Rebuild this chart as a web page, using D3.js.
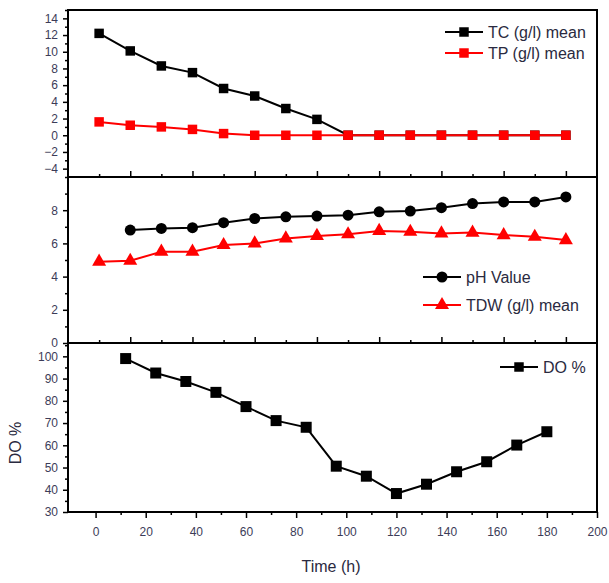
<!DOCTYPE html>
<html>
<head>
<meta charset="utf-8">
<script src="https://cdn.jsdelivr.net/npm/d3@7"></script>
<style>
body { margin: 0; background: #fff; }
svg text { font-family: "Liberation Sans", Arial, sans-serif; }
</style>
</head>
<body>
<div id="chart"></div>
<script>
// data
var timeTop = [0, 12, 24, 36, 48, 60, 72, 84, 96, 108, 120, 132, 144, 156, 168, 180];
var tcMean = [12.2, 10.1, 8.3, 7.5, 5.6, 4.7, 3.2, 1.9, 0, 0, 0, 0, 0, 0, 0, 0];
var tpMean = [1.6, 1.2, 1.0, 0.7, 0.2, 0, 0, 0, 0, 0, 0, 0, 0, 0, 0, 0];
var tdwMean = [4.9, 4.95, 5.5, 5.5, 5.9, 6.0, 6.3, 6.45, 6.55, 6.75, 6.7, 6.6, 6.65, 6.5, 6.4, 6.2];
var timePh = [12, 24, 36, 48, 60, 72, 84, 96, 108, 120, 132, 144, 156, 168, 180];
var phValue = [6.8, 6.9, 6.95, 7.25, 7.5, 7.6, 7.65, 7.7, 7.9, 7.95, 8.15, 8.4, 8.5, 8.5, 8.8];
var timeDo = [12, 24, 36, 48, 60, 72, 84, 96, 108, 120, 132, 144, 156, 168, 180];
var doPercent = [99, 92.5, 88.7, 83.8, 77.4, 71.1, 68.1, 50.6, 46.1, 38.3, 42.5, 48.1, 52.6, 60.1, 66.1];

// ticks
var topMajor = [12, 36, 60, 84, 108, 132, 156, 180];
var topMinor = [0, 24, 48, 72, 96, 120, 144, 168];
var timeTicks = [0, 20, 40, 60, 80, 100, 120, 140, 160, 180, 200];
var timeMinor = [10, 30, 50, 70, 90, 110, 130, 150, 170, 190];
var p1Ticks = [-4, -2, 0, 2, 4, 6, 8, 10, 12, 14];
var p1Minor = [-5, -3, -1, 1, 3, 5, 7, 9, 11, 13, 15];
var p2Ticks = [0, 2, 4, 6, 8];
var p2Minor = [1, 3, 5, 7, 9];
var p3Ticks = [30, 40, 50, 60, 70, 80, 90, 100];
var p3Minor = [35, 45, 55, 65, 75, 85, 95, 105];

var width = 609,
    height = 583,
    left = 68,
    right = 597,
    labelColor = '#3c3c58',
    textColor = '#2a2a40';

var svg = d3.select('#chart')
    .append('svg')
    .attr('width', width)
    .attr('height', height);

var xTop = d3.scaleLinear().domain([-12, 192]).range([left, right]);
var xBot = d3.scaleLinear().domain([-11, 200]).range([left, right]);

var y1 = d3.scaleLinear().domain([-5, 15]).range([177, 10]);
var y2 = d3.scaleLinear().domain([0, 10]).range([343, 177]);
var y3 = d3.scaleLinear().domain([30, 106]).range([512, 343]);

var styleAxis = function (g) {
    g.select('.domain').remove();
    g.selectAll('.tick line').attr('stroke', '#000').attr('stroke-width', 1.5);
    g.selectAll('.tick text')
        .attr('fill', labelColor)
        .style('font-size', '12px');
};

var yAxis = function (scale, major, minor) {
    svg.append('g')
        .attr('transform', 'translate(' + left + ',0)')
        .call(d3.axisLeft(scale).tickValues(major).tickSize(5).tickPadding(5))
        .call(styleAxis);
    svg.append('g')
        .attr('transform', 'translate(' + left + ',0)')
        .call(d3.axisLeft(scale).tickValues(minor).tickSize(3).tickFormat(''))
        .call(styleAxis);
};

var topTicks = function (yPos) {
    svg.append('g')
        .attr('transform', 'translate(0,' + yPos + ')')
        .call(d3.axisBottom(xTop).tickValues(topMajor).tickSize(-6).tickFormat(''))
        .call(styleAxis);
    svg.append('g')
        .attr('transform', 'translate(0,' + yPos + ')')
        .call(d3.axisBottom(xTop).tickValues(topMinor).tickSize(-3).tickFormat(''))
        .call(styleAxis);
};

yAxis(y1, p1Ticks, p1Minor);
yAxis(y2, p2Ticks, p2Minor);
yAxis(y3, p3Ticks, p3Minor);
topTicks(177);
topTicks(343);

svg.append('g')
    .attr('transform', 'translate(0,512)')
    .call(d3.axisBottom(xBot).tickValues(timeTicks).tickSize(6).tickPadding(9))
    .call(styleAxis);
svg.append('g')
    .attr('transform', 'translate(0,512)')
    .call(d3.axisBottom(xBot).tickValues(timeMinor).tickSize(3).tickFormat(''))
    .call(styleAxis);

// series
var drawSeries = function (xs, ys, xScale, yScale, color, symbol, size) {
    var pts = xs.map(function (x, i) { return [xScale(x), yScale(ys[i])]; });
    svg.append('path')
        .attr('d', d3.line()(pts))
        .attr('fill', 'none')
        .attr('stroke', color)
        .attr('stroke-width', 2);
    svg.selectAll(null)
        .data(pts)
        .enter()
        .append('path')
        .attr('transform', function (d) { return 'translate(' + d[0] + ',' + d[1] + ')'; })
        .attr('d', d3.symbol().type(symbol).size(size))
        .attr('fill', color);
};

drawSeries(timeTop, tcMean, xTop, y1, '#000', d3.symbolSquare, 90);
drawSeries(timeTop, tpMean, xTop, y1, '#ff0000', d3.symbolSquare, 90);
drawSeries(timePh, phValue, xTop, y2, '#000', d3.symbolCircle, 95);
drawSeries(timeTop, tdwMean, xTop, y2, '#ff0000', d3.symbolTriangle, 85);
drawSeries(timeDo, doPercent, xBot, y3, '#000', d3.symbolSquare, 121);

// frames
[[10, 177], [177, 343], [343, 512]].forEach(function (p) {
    svg.append('rect')
        .attr('x', left)
        .attr('y', p[0])
        .attr('width', right - left)
        .attr('height', p[1] - p[0])
        .attr('fill', 'none')
        .attr('stroke', '#000')
        .attr('stroke-width', 2);
});

// legends
var legendItem = function (x0, x1, yPos, color, symbol, size, label) {
    svg.append('line')
        .attr('x1', x0).attr('x2', x1)
        .attr('y1', yPos).attr('y2', yPos)
        .attr('stroke', color)
        .attr('stroke-width', 2);
    svg.append('path')
        .attr('transform', 'translate(' + ((x0 + x1) / 2) + ',' + yPos + ')')
        .attr('d', d3.symbol().type(symbol).size(size))
        .attr('fill', color);
    svg.append('text')
        .attr('x', x1 + 5)
        .attr('y', yPos + 6)
        .attr('fill', textColor)
        .style('font-size', '16px')
        .text(label);
};

legendItem(445, 483, 32, '#000', d3.symbolSquare, 90, 'TC (g/l) mean');
legendItem(445, 483, 53, '#ff0000', d3.symbolSquare, 90, 'TP (g/l) mean');
legendItem(423, 461, 277, '#000', d3.symbolCircle, 95, 'pH Value');
legendItem(423, 461, 305, '#ff0000', d3.symbolTriangle, 85, 'TDW (g/l) mean');
legendItem(500, 538, 367, '#000', d3.symbolSquare, 90, 'DO %');

// axis titles
svg.append('text')
    .attr('x', 331)
    .attr('y', 572)
    .attr('text-anchor', 'middle')
    .attr('fill', textColor)
    .style('font-size', '16px')
    .text('Time (h)');

svg.append('text')
    .attr('transform', 'translate(21,443) rotate(-90)')
    .attr('text-anchor', 'middle')
    .attr('fill', textColor)
    .style('font-size', '16px')
    .text('DO %');
</script>
</body>
</html>
